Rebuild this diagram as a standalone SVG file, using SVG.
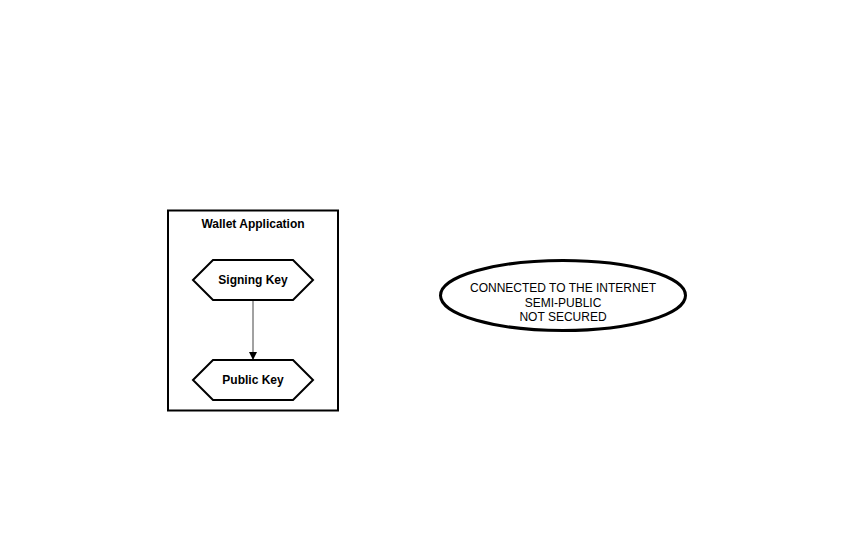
<svg xmlns="http://www.w3.org/2000/svg" width="850" height="550" viewBox="0 0 850 550">
<style>
text{font-family:"Liberation Sans",Arial,sans-serif;fill:#000;text-anchor:middle}
.b{font-weight:bold;font-size:12px}
.n{font-size:12px}
.hex{fill:#fff;stroke:#000;stroke-width:2}
</style>
<defs>
<marker id="arr" markerWidth="10" markerHeight="10" refX="8" refY="4" orient="auto" markerUnits="userSpaceOnUse">
<path d="M0,0 L8,4 L0,8 Z" fill="#000"/>
</marker>
</defs>
<rect width="850" height="550" fill="#fff"/>
<g id="wallet">
<rect x="168" y="210.5" width="170" height="200" fill="#fff" stroke="#000" stroke-width="2"/>
<text class="b" x="253" y="228">Wallet Application</text>
</g>
<g id="connectors">
<line x1="253" y1="300" x2="253" y2="360" stroke="#444" stroke-width="1" marker-end="url(#arr)"/>
</g>
<g id="signing">
<polygon class="hex" points="193,280 213,260 293,260 313,280 293,300 213,300"/>
<text class="b" x="253" y="284">Signing Key</text>
</g>
<g id="public">
<polygon class="hex" points="193,380 213,360 293,360 313,380 293,400 213,400"/>
<text class="b" x="253" y="384">Public Key</text>
</g>
<g id="internet">
<ellipse cx="563" cy="295.5" rx="122.5" ry="35" fill="#fff" stroke="#000" stroke-width="3"/>
<text class="n" x="563" y="292">CONNECTED TO THE INTERNET</text>
<text class="n" x="563" y="307">SEMI-PUBLIC</text>
<text class="n" x="563" y="321">NOT SECURED</text>
</g>
</svg>
